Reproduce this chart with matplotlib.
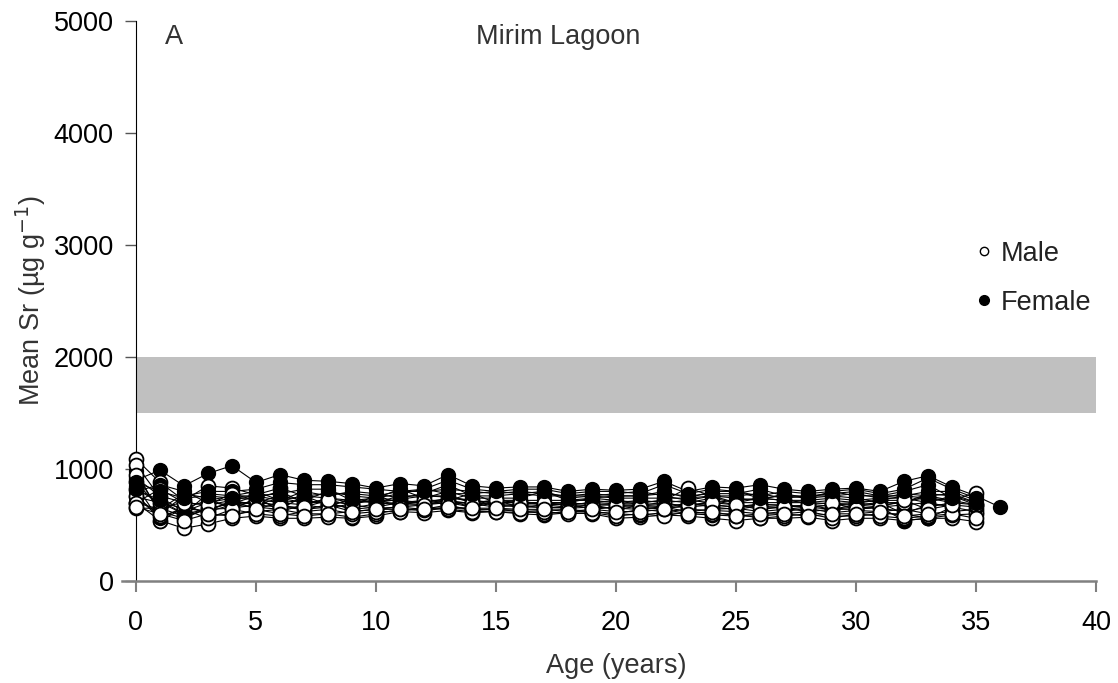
import matplotlib
matplotlib.use("Agg")
import matplotlib.pyplot as plt
from matplotlib.lines import Line2D

plt.rcParams['font.family'] = ['Liberation Sans', 'DejaVu Sans']

# mean Sr (ug/g) per age, one list per fish
male = [
    [1090, 880, 720, 850, 830, 770, 830, 760, 740, 720, 700, 730, 760, 750, 720, 700, 710, 690, 680, 700, 690, 700, 720, 830, 760, 700, 740, 720, 700, 690, 700, 720, 760, 740, 720, 790],
    [1040, 750, 620, 700, 740, 730, 700, 720, 690, 650, 690, 700, 680, 720, 690, 660, 680, 650, 660, 680, 640, 670, 650, 700, 660, 640, 670, 650, 620, 640, 660, 650, 620, 660, 700, 680],
    [650, 650, 580, 640, 650, 680, 660, 640, 680, 620, 640, 660, 640, 680, 630, 640, 620, 630, 640, 620, 600, 640, 620, 640, 630, 620, 600, 620, 650, 610, 630, 620, 640, 600, 620, 640],
    [700, 540, 470, 510, 560, 580, 560, 560, 570, 560, 580, 620, 610, 630, 610, 620, 600, 590, 610, 600, 560, 570, 590, 580, 560, 540, 560, 560, 570, 540, 560, 560, 540, 560, 560, 530],
    [880, 660, 700, 580, 600, 620, 640, 600, 600, 570, 600, 640, 630, 650, 640, 640, 630, 600, 620, 620, 600, 590, 610, 600, 590, 580, 580, 600, 620, 580, 580, 600, 600, 560, 590, 600],
    [820, 700, 650, 620, 720, 680, 740, 700, 700, 640, 660, 700, 700, 690, 700, 680, 660, 660, 650, 660, 650, 640, 660, 620, 640, 650, 620, 640, 660, 640, 640, 660, 680, 700, 660, 620],
    [950, 620, 560, 650, 690, 760, 620, 680, 650, 690, 720, 680, 720, 700, 660, 700, 700, 680, 690, 640, 660, 680, 700, 660, 680, 660, 690, 670, 660, 680, 690, 680, 700, 760, 720, 680],
    [760, 580, 640, 560, 640, 600, 580, 620, 640, 600, 620, 620, 660, 640, 620, 620, 610, 620, 600, 610, 580, 600, 580, 620, 600, 600, 560, 580, 600, 560, 600, 580, 560, 580, 600, 560],
    [700, 820, 700, 680, 780, 720, 660, 660, 720, 680, 650, 660, 680, 700, 700, 720, 700, 700, 700, 680, 680, 660, 640, 680, 700, 680, 660, 660, 680, 700, 640, 660, 720, 640, 680],
    [660, 600, 540, 600, 580, 640, 600, 580, 600, 620, 640, 640, 640, 660, 650, 650, 640, 640, 620, 640, 620, 620, 640, 600, 620, 580, 600, 600, 580, 600, 600, 620, 580, 600],
]

female = [
    [900, 990, 850, 960, 1030, 880, 950, 900, 890, 870, 830, 870, 850, 950, 850, 830, 840, 840, 800, 820, 810, 820, 890, 800, 840, 830, 860, 820, 800, 820, 830, 800, 890, 940, 840, 760, 660],
    [980, 600, 760, 800, 800, 820, 880, 860, 860, 840, 820, 800, 820, 900, 820, 800, 820, 820, 780, 800, 800, 780, 860, 780, 820, 800, 760, 800, 780, 800, 820, 780, 820, 920, 820, 740],
    [850, 540, 650, 720, 760, 760, 720, 800, 760, 800, 780, 740, 780, 860, 760, 760, 780, 760, 760, 780, 760, 760, 780, 760, 780, 780, 820, 760, 760, 780, 800, 760, 760, 800, 800, 720],
    [750, 700, 600, 640, 700, 700, 760, 720, 800, 760, 740, 820, 740, 800, 740, 740, 740, 800, 740, 760, 740, 740, 740, 740, 760, 740, 720, 780, 740, 760, 740, 700, 700, 780, 760, 700],
    [800, 860, 800, 700, 680, 660, 640, 760, 680, 720, 700, 760, 760, 760, 700, 720, 720, 720, 720, 720, 700, 720, 700, 720, 700, 720, 740, 720, 720, 740, 720, 740, 740, 700, 760, 680],
    [700, 640, 780, 740, 640, 740, 800, 700, 720, 680, 760, 700, 720, 720, 780, 700, 700, 700, 700, 740, 720, 700, 720, 700, 740, 700, 700, 700, 700, 720, 700, 720, 720, 740, 700],
    [920, 760, 700, 680, 720, 640, 700, 680, 740, 700, 720, 720, 700, 740, 720, 680, 680, 700, 680, 700, 720, 680, 680, 680, 680, 660, 680, 680, 660, 680, 680, 700, 600, 680, 680, 660],
    [760, 560, 660, 620, 680, 700, 680, 640, 660, 740, 700, 680, 680, 720, 660, 720, 660, 680, 660, 680, 680, 680, 660, 660, 720, 680, 640, 660, 680, 640, 680, 660, 540, 560, 660],
    [820, 720, 600, 780, 760, 800, 720, 760, 780, 780, 760, 800, 800, 820, 800, 780, 800, 780, 760, 760, 780, 800, 760, 720, 760, 760, 780, 740, 760, 760, 780, 740, 780, 760, 780, 700],
    [880, 800, 740, 760, 740, 760, 780, 820, 820, 720, 740, 780, 820, 780, 780, 800, 780, 800, 720, 740, 760, 760, 800, 740, 800, 800, 740, 760, 740, 800, 760, 760, 800, 860, 740],
]

band_lo, band_hi = 1500, 2000

fig = plt.figure(figsize=(11.18, 6.83), dpi=100)
ax = fig.add_axes([0.1216, 0.1493, 0.8587, 0.82])

ax.axhspan(band_lo, band_hi, color='#c0c0c0', lw=0, zorder=1)

for i in range(max(len(male), len(female))):
    if i < len(female):
        y = female[i]
        ax.plot(range(len(y)), y, color='black', lw=0.8, marker='o', ms=10,
                mfc='black', mec='black', mew=1, zorder=3, clip_on=False)
    if i < len(male):
        y = male[i]
        ax.plot(range(len(y)), y, color='black', lw=0.8, marker='o', ms=10,
                mfc='white', mec='black', mew=1.3, zorder=3, clip_on=False)

ax.set_xlim(0, 40)
ax.set_ylim(0, 5000)
ax.set_xticks(range(0, 41, 5))
ax.set_yticks(range(0, 5001, 1000))

ax.spines['top'].set_visible(False)
ax.spines['right'].set_visible(False)
ax.spines['left'].set_color('black')
ax.spines['bottom'].set_color('#808080')
ax.spines['bottom'].set_linewidth(1.8)
ax.spines['bottom'].set_bounds(-0.6, 40)
ax.tick_params(axis='y', direction='out', length=8, width=1, color='#555555', labelsize=19.5, pad=8)
ax.tick_params(axis='x', direction='out', length=8, width=1.5, color='#808080', labelsize=19.5, pad=13)

ax.set_xlabel('Age (years)', fontsize=19.5, color='#333333', labelpad=12)
ax.set_ylabel('Mean Sr (µg g$^{-1}$)', fontsize=19.5, color='#333333')
ax.yaxis.set_label_coords(-0.092, 0.5)

ax.text(1.6, 4860, 'A', fontsize=19.5, color='#333333', va='center', ha='center')
ax.text(17.6, 4860, 'Mirim Lagoon', fontsize=19.5, color='#333333', va='center', ha='center')

handles = [
    Line2D([], [], ls='none', marker='o', ms=6, mfc='white', mec='black', mew=1),
    Line2D([], [], ls='none', marker='o', ms=7, mfc='black', mec='black'),
]
ax.legend(handles, ['Male', 'Female'], loc='upper left', bbox_to_anchor=(0.850, 0.651),
          frameon=False, fontsize=19.5, handlelength=0.6, handletextpad=0.3,
          labelspacing=0.85, labelcolor='#222222')

fig.savefig('out.png', dpi=100)
